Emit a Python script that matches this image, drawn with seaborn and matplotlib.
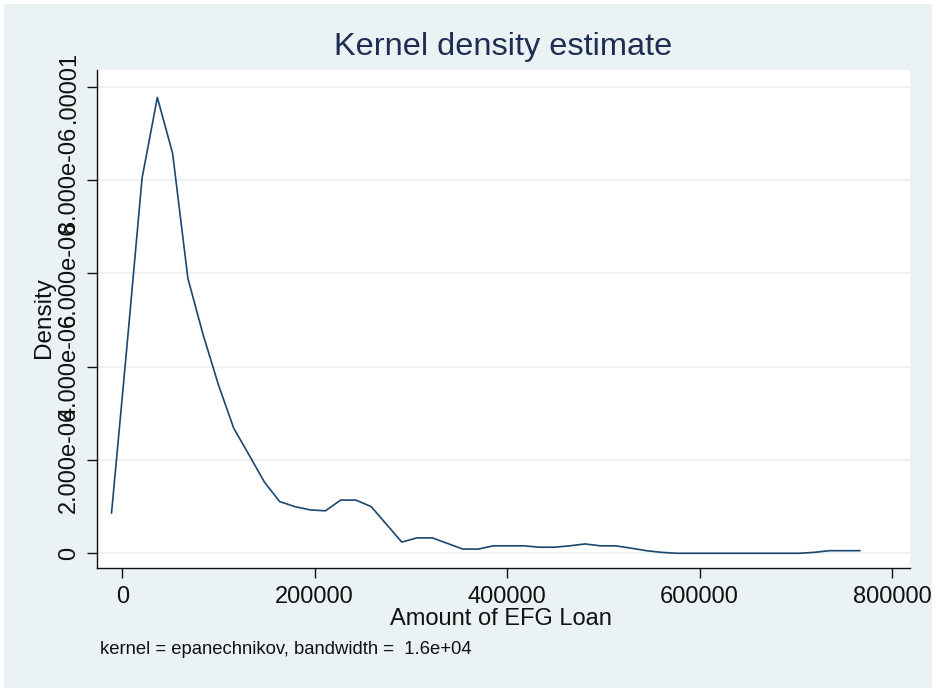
import numpy as np
import pandas as pd
import seaborn as sns
import matplotlib
matplotlib.use("Agg")
import matplotlib.pyplot as plt
from matplotlib.patches import Rectangle

# Evaluation grid of the kernel density estimate (loan amount)
loan_amount = [
    -11200, 4680, 20560, 36440, 52320, 68200, 84080, 99960, 115840, 131720,
    147600, 163480, 179360, 195240, 211120, 227000, 242880, 258760, 274640, 290520,
    306400, 322280, 338160, 354040, 369920, 385800, 401680, 417560, 433440, 449320,
    465200, 481080, 496960, 512840, 528720, 544600, 560480, 576360, 592240, 608120,
    624000, 639880, 655760, 671640, 687520, 703400, 719280, 735160, 751040, 766920,
]

# Estimated density at each grid point (units of 1e-6)
density_e6 = [
    0.86, 4.40, 8.04, 9.77, 8.57, 5.89, 4.68, 3.61, 2.68, 2.11,
    1.53, 1.11, 1.00, 0.93, 0.91, 1.14, 1.14, 1.00, 0.62, 0.24,
    0.33, 0.33, 0.21, 0.09, 0.09, 0.16, 0.16, 0.16, 0.13, 0.13,
    0.16, 0.20, 0.16, 0.16, 0.11, 0.056, 0.02, 0.0, 0.0, 0.0,
    0.0, 0.0, 0.0, 0.0, 0.0, 0.0, 0.02, 0.056, 0.056, 0.056,
]

x_ticks = [0, 200000, 400000, 600000, 800000]
x_tick_labels = ["0", "200000", "400000", "600000", "800000"]
y_ticks = [0, 2e-6, 4e-6, 6e-6, 8e-6, 1e-5]
y_tick_labels = ["0", "2.000e-06", "4.000e-06", "6.000e-06", "8.000e-06", ".00001"]

title = "Kernel density estimate"
x_label = "Amount of EFG Loan"
y_label = "Density"
note = "kernel = epanechnikov, bandwidth =  1.6e+04"

df = pd.DataFrame({
    "loan": loan_amount,
    "density": np.array(density_e6) * 1e-6,
})

sns.set_style("white")
plt.rcParams["font.family"] = ["Liberation Sans", "DejaVu Sans"]

W, H = 939, 690
fig = plt.figure(figsize=(W / 100, H / 100), dpi=100, facecolor="white")

region_color = "#EAF2F3"
line_color = "#1A476F"
title_color = "#1E2D52"

# Graph region background
fig.patches.append(Rectangle((4 / W, 2 / H), 928 / W, 684 / H,
                             transform=fig.transFigure, facecolor=region_color,
                             edgecolor="none", zorder=-5))

ax = fig.add_axes([96.7 / W, (H - 567.7) / H, (910 - 96.7) / W, (567.7 - 70) / H])
ax.set_zorder(2)
ax.set_facecolor("white")

sns.lineplot(data=df, x="loan", y="density", ax=ax, color=line_color,
             linewidth=1.2, zorder=3)

ax.set_xlim(-26600, 818800)
ax.set_ylim(-3.09e-7, 1.0358e-5)

ax.set_xticks(x_ticks)
ax.set_xticklabels(x_tick_labels)
ax.set_yticks(y_ticks)
ax.set_yticklabels(y_tick_labels, rotation=90, va="center")

ax.yaxis.grid(True, color=region_color, linewidth=1.5, zorder=1)
ax.xaxis.grid(False)

for side in ["top", "right"]:
    ax.spines[side].set_visible(False)
for side in ["left", "bottom"]:
    ax.spines[side].set_color("#111111")
    ax.spines[side].set_linewidth(1.0)

ax.tick_params(axis="both", direction="out", length=7, width=1.0,
               color="#111111", labelsize=17, labelcolor="#111111")
ax.tick_params(axis="x", pad=6, bottom=True)
ax.tick_params(axis="y", pad=5, left=True)

ax.set_xlabel("")
ax.set_ylabel("")

fig.text(503 / W, 1 - 47 / H, title, ha="center", va="center",
         fontsize=23.4, color=title_color)
fig.text(44 / W, 1 - 318 / H, y_label, ha="center", va="center",
         rotation=90, fontsize=17.5, color="#111111")
fig.text(501 / W, 1 - 619 / H, x_label, ha="center", va="center",
         fontsize=17, color="#111111")
fig.text(100 / W, 1 - 650 / H, note, ha="left", va="center",
         fontsize=13.3, color="#111111")

fig.savefig("out.png", dpi=100, facecolor="white")
